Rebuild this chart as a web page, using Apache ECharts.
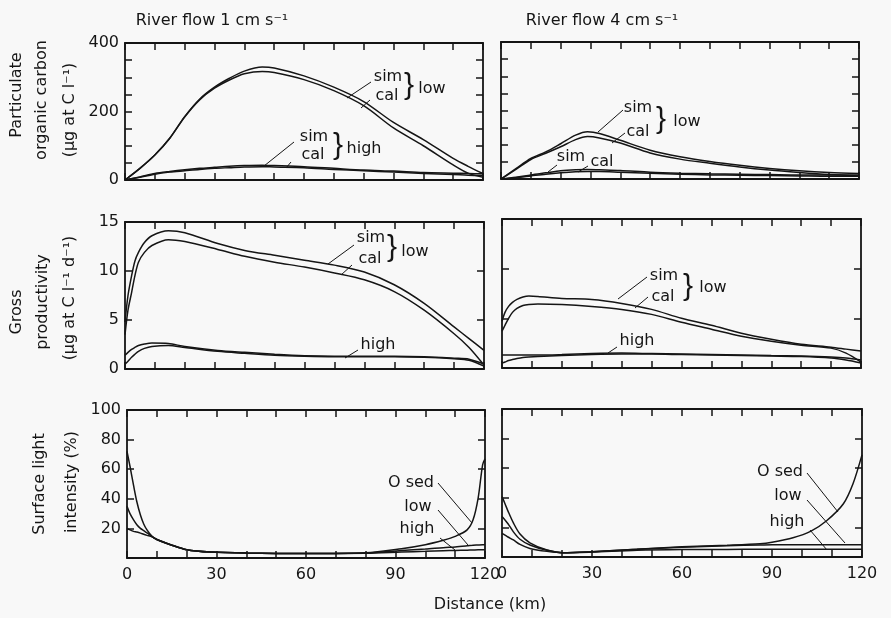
<!DOCTYPE html>
<html><head><meta charset="utf-8">
<script src="https://cdn.jsdelivr.net/npm/echarts@6/dist/echarts.min.js"></script>
<style>html,body{margin:0;padding:0;background:#f8f8f8}#c{width:891px;height:618px}</style>
</head><body><div id="c"></div>
<script>
// ---------- DATA ----------
// Particulate organic carbon, river flow 1 cm/s
const kmPOC1 = [0, 5, 10, 15, 20, 25, 30, 35, 40, 46, 50, 60, 70, 80, 90, 100, 110, 115, 120];
const pocLowSim1  = [0, 34, 73, 122, 185, 236, 271, 297, 318, 330, 327, 304, 271, 229, 168, 118, 63, 40, 19];
const pocLowCal1  = [0, 34, 73, 122, 184, 234, 268, 292, 310, 317, 314, 293, 261, 217, 152, 100, 44, 20, 8];
const pocHighSim1 = [0, 9, 19, 25, 30, 34, 37, 40, 42, 43, 42, 39, 34, 29, 26, 22, 20, 19, 18];
const pocHighCal1 = [0, 8, 17, 23, 27, 31, 34, 36, 38, 39, 38, 36, 31, 27, 23, 19, 16, 14, 13];
// Particulate organic carbon, river flow 4 cm/s
const kmPOC4 = [0, 5, 10, 15, 20, 25, 29, 33, 40, 50, 60, 70, 80, 90, 100, 110, 120];
const pocLowSim4  = [0, 30, 60, 79, 103, 128, 138, 133, 113, 84, 65, 51, 40, 31, 24, 19, 16];
const pocLowCal4  = [0, 28, 57, 75, 94, 115, 124, 120, 105, 76, 58, 46, 35, 26, 19, 13, 9];
const pocHighSim4 = [0, 5, 12, 18, 24, 27, 28, 27, 25, 20, 17, 15, 14, 13, 12, 12, 12];
const pocHighCal4 = [0, 4, 9, 14, 18, 21, 22, 22, 20, 17, 14, 12, 11, 10, 9, 8, 8];
// Gross productivity, river flow 1 cm/s
const kmGP1 = [0, 1, 2.2, 3.3, 4.5, 6.5, 9, 14.5, 20, 31, 40, 50, 60, 70, 80, 90, 100, 110, 115, 120];
const gpLowSim1  = [4.8, 7.5, 9.5, 11.0, 11.9, 12.9, 13.6, 14.1, 13.9, 12.8, 12.1, 11.6, 11.1, 10.6, 9.9, 8.6, 6.7, 4.3, 3.1, 1.9];
const gpLowCal1  = [3.5, 6.0, 7.8, 9.5, 10.9, 11.9, 12.6, 13.2, 13.0, 12.2, 11.5, 10.9, 10.4, 9.8, 9.1, 7.9, 6.0, 3.6, 2.2, 0.4];
const gpHighSim1 = [1.4, 1.7, 2.0, 2.2, 2.4, 2.55, 2.65, 2.6, 2.3, 1.9, 1.7, 1.5, 1.35, 1.3, 1.3, 1.3, 1.25, 1.1, 1.0, 0.5];
const gpHighCal1 = [0.5, 0.8, 1.2, 1.5, 1.8, 2.1, 2.3, 2.4, 2.2, 1.8, 1.6, 1.4, 1.3, 1.25, 1.25, 1.25, 1.2, 1.05, 0.9, 0.3];
// Gross productivity, river flow 4 cm/s
const kmGP4 = [0, 1, 2.2, 3.5, 5, 7, 9, 12, 20, 30, 40, 50, 60, 70, 80, 90, 100, 110, 115, 120];
const gpLowSim4  = [4.7, 5.6, 6.2, 6.6, 6.9, 7.15, 7.25, 7.2, 7.0, 6.9, 6.5, 5.9, 5.0, 4.3, 3.5, 2.9, 2.4, 2.1, 1.9, 1.7];
const gpLowCal4  = [3.7, 4.3, 5.0, 5.6, 6.0, 6.3, 6.4, 6.45, 6.4, 6.2, 5.9, 5.4, 4.6, 3.9, 3.2, 2.7, 2.3, 2.0, 1.5, 0.6];
const gpHighSim4 = [1.3, 1.3, 1.3, 1.3, 1.3, 1.3, 1.3, 1.3, 1.35, 1.45, 1.5, 1.45, 1.4, 1.35, 1.3, 1.25, 1.2, 1.1, 1.0, 0.8];
const gpHighCal4 = [0.5, 0.6, 0.75, 0.85, 0.95, 1.05, 1.1, 1.15, 1.25, 1.35, 1.4, 1.4, 1.35, 1.3, 1.25, 1.2, 1.15, 1.0, 0.8, 0.5];
// Surface light intensity, river flow 1 cm/s
const kmSL1 = [0, 1, 2.2, 3.3, 4.5, 5.6, 6.7, 8.4, 10, 14.6, 20, 28, 40, 60, 80, 92, 100, 106, 110, 114, 116, 117.7, 119.2, 120];
const slSed1  = [72, 62, 49, 38, 29, 23, 19, 14.6, 12.5, 9, 5.6, 4.0, 3.3, 3.0, 3.5, 6.3, 9, 12, 14.6, 19, 25.8, 40.5, 63, 67];
const slLow1  = [35, 30, 25.8, 22.5, 20, 18.5, 17, 14.5, 12.5, 9, 5.6, 4.0, 3.3, 3.0, 3.3, 5.0, 6.0, 7.0, 7.5, 8.2, 8.6, 8.8, 9.0, 9.2];
const slHigh1 = [20, 19, 18, 17.5, 16.8, 16, 15.3, 14.3, 12.5, 9, 5.6, 4.0, 3.3, 3.0, 3.2, 4.0, 4.5, 4.9, 5.1, 5.3, 5.4, 5.5, 5.5, 5.5];
// Surface light intensity, river flow 4 cm/s
const kmSL4 = [0, 1, 2, 3.8, 6, 9.3, 15, 20.4, 30, 45, 60, 75, 86, 90, 97, 103, 108.2, 113.8, 117, 120];
const slSed4  = [40.8, 36, 31, 23, 15.5, 9.6, 4.7, 2.9, 3.6, 5.2, 6.9, 8.0, 9.0, 10.0, 13.0, 17.5, 24.5, 36, 49.5, 69];
const slLow4  = [27.3, 25, 22.5, 17, 12, 8.1, 4.5, 2.9, 3.6, 5.2, 6.6, 7.6, 8.1, 8.3, 8.3, 8.3, 8.3, 8.3, 8.3, 8.3];
const slHigh4 = [16, 14.8, 13.5, 11.5, 8.5, 5.8, 3.8, 2.8, 3.3, 4.5, 5.0, 5.1, 5.2, 5.2, 5.2, 5.2, 5.2, 5.2, 5.2, 5.2];

const xTickLabels = [0, 30, 60, 90, 120];
const titles = ['River flow 1 cm s\u207B\u00B9', 'River flow 4 cm s\u207B\u00B9'];
const xName = 'Distance (km)';

// ---------- CHART ----------
const FONT = '"DejaVu Sans", "Liberation Sans", sans-serif';
const INK = '#151515';
const panels = [
  {grid:{left:125,top:43,width:358,height:137}, y:[0,400,50], fmt:v=>v%200===0?v:'', xl:false, yl:true,
   s:[[kmPOC1,pocLowSim1],[kmPOC1,pocLowCal1],[kmPOC1,pocHighSim1],[kmPOC1,pocHighCal1]]},
  {grid:{left:501,top:42,width:358,height:137}, y:[0,400,50], fmt:v=>'', xl:false, yl:false,
   s:[[kmPOC4,pocLowSim4],[kmPOC4,pocLowCal4],[kmPOC4,pocHighSim4],[kmPOC4,pocHighCal4]]},
  {grid:{left:125,top:222,width:359,height:147}, y:[0,15,5], fmt:v=>v, xl:false, yl:true,
   s:[[kmGP1,gpLowSim1],[kmGP1,gpLowCal1],[kmGP1,gpHighSim1],[kmGP1,gpHighCal1]]},
  {grid:{left:502,top:219,width:359,height:149}, y:[0,15,5], fmt:v=>'', xl:false, yl:false,
   s:[[kmGP4,gpLowSim4],[kmGP4,gpLowCal4],[kmGP4,gpHighSim4],[kmGP4,gpHighCal4]]},
  {grid:{left:127,top:410,width:358,height:148}, y:[0,100,20], fmt:v=>v===0?'':v, xl:true, yl:true,
   s:[[kmSL1,slSed1],[kmSL1,slLow1],[kmSL1,slHigh1]]},
  {grid:{left:502,top:409,width:360,height:148}, y:[0,100,20], fmt:v=>'', xl:true, yl:false,
   s:[[kmSL4,slSed4],[kmSL4,slLow4],[kmSL4,slHigh4]]}
];

const grids=[], xAxes=[], yAxes=[], series=[];
const lineSt = {color:INK, width:1.8};
const tickSt = {show:true, inside:true, length:7, lineStyle:{color:INK, width:1.5}};
panels.forEach((p,g)=>{
  grids.push(Object.assign({outerBoundsMode:'none', containLabel:false}, p.grid));
  xAxes.push({type:'value', gridIndex:g, position:'bottom', min:0, max:120, interval:10,
    axisLine:{show:true, onZero:false, lineStyle:lineSt}, axisTick:tickSt, splitLine:{show:false},
    axisLabel:{show:p.xl, margin:9, fontSize:16, fontFamily:FONT, color:INK,
      formatter:v=>xTickLabels.indexOf(v)>=0?String(v):''}});
  xAxes.push({type:'value', gridIndex:g, position:'top', min:0, max:120, interval:10,
    axisLine:{show:true, onZero:false, lineStyle:lineSt}, axisTick:tickSt, splitLine:{show:false}, axisLabel:{show:false}});
  yAxes.push({type:'value', gridIndex:g, position:'left', min:p.y[0], max:p.y[1], interval:p.y[2],
    axisLine:{show:true, onZero:false, lineStyle:lineSt}, axisTick:tickSt, splitLine:{show:false},
    axisLabel:{show:p.yl, margin:6, fontSize:16, fontFamily:FONT, color:INK, formatter:v=>String(p.fmt(v))}});
  yAxes.push({type:'value', gridIndex:g, position:'right', min:p.y[0], max:p.y[1], interval:p.y[2],
    axisLine:{show:true, onZero:false, lineStyle:lineSt}, axisTick:tickSt, splitLine:{show:false}, axisLabel:{show:false}});
  p.s.forEach(([km,vals])=>{
    series.push({type:'line', xAxisIndex:2*g, yAxisIndex:2*g, showSymbol:false, symbol:'none',
      smooth:0.3, silent:true, z:1,
      lineStyle:{color:INK, width:1.5}, data:km.map((k,i)=>[k, vals[i]])});
  });
});

// annotations (text and leader lines, in pixels)
function txt(t,x,y,size,rot,fam){return {type:'text', x:x, y:y, rotation:rot||0, silent:true, z:10,
  style:{text:t, font:(size||16)+'px '+(fam||FONT), fill:INK, align:'center', verticalAlign:'middle'}};}
function brace(x,y){return txt('}', x, y, 30, 0, '"Liberation Sans", sans-serif');}
function ln(x1,y1,x2,y2){return {type:'line', silent:true, z:10, shape:{x1,y1,x2,y2}, style:{stroke:INK, lineWidth:1}};}
const R = Math.PI/2;
const graphic = [
  txt(titles[0], 212, 21, 16), txt(titles[1], 602, 21, 16),
  txt('Particulate', 17, 95, 16, R), txt('organic carbon', 42, 100, 16, R), txt('(\u03BCg at C l\u207B\u00B9)', 70, 110, 16, R),
  txt('Gross', 17, 312, 16, R), txt('productivity', 43, 302, 16, R), txt('(\u03BCg at C l\u207B\u00B9 d\u207B\u00B9)', 70, 298, 16, R),
  txt('Surface light', 40, 484, 16, R), txt('intensity (%)', 72, 482, 16, R),
  txt(xName, 490, 605, 16),
  // top-left
  txt('sim', 388, 77, 16), txt('cal', 387, 96, 16), brace(409, 86), txt('low', 432, 89, 16),
  ln(371, 82, 347, 98), ln(370, 100, 361, 108),
  txt('sim', 314, 137, 16), txt('cal', 313, 155, 16), brace(338, 146), txt('high', 364, 149, 16),
  ln(294, 142, 264, 166), ln(291, 162, 286, 168),
  // top-right
  txt('sim', 638, 108, 16), txt('cal', 638, 132, 16), brace(661, 120), txt('low', 687, 122, 16),
  ln(623, 110, 598, 132), ln(625, 133, 612, 143),
  txt('sim', 571, 157, 16), txt('cal', 602, 162, 16),
  ln(557, 165, 548, 172), ln(588, 166, 578, 172),
  // middle-left
  txt('sim', 371, 238, 16), txt('cal', 370, 259, 16), brace(392, 248), txt('low', 415, 252, 16),
  ln(354, 245, 328, 264), ln(352, 265, 341, 275),
  txt('high', 378, 345, 16), ln(358, 350, 345, 358),
  // middle-right
  txt('sim', 664, 276, 16), txt('cal', 663, 297, 16), brace(688, 287), txt('low', 713, 288, 16),
  ln(647, 277, 618, 299), ln(648, 297, 635, 308),
  txt('high', 637, 341, 16), ln(617, 347, 608, 353),
  // bottom-left
  txt('O sed', 411, 483, 16), txt('low', 418, 507, 16), txt('high', 417, 529, 16),
  ln(438, 483, 472, 523), ln(438, 510, 468, 545), ln(440, 538, 455, 550),
  // bottom-right
  txt('O sed', 780, 472, 16), txt('low', 788, 496, 16), txt('high', 787, 522, 16),
  ln(807, 473, 838, 512), ln(807, 500, 845, 543), ln(810, 530, 827, 550)
];

const chart = echarts.init(document.getElementById('c'), null, {renderer:'canvas'});
chart.setOption({backgroundColor:'#f8f8f8', animation:false, grid:grids, xAxis:xAxes, yAxis:yAxes, series:series, graphic:graphic});
</script></body></html>
